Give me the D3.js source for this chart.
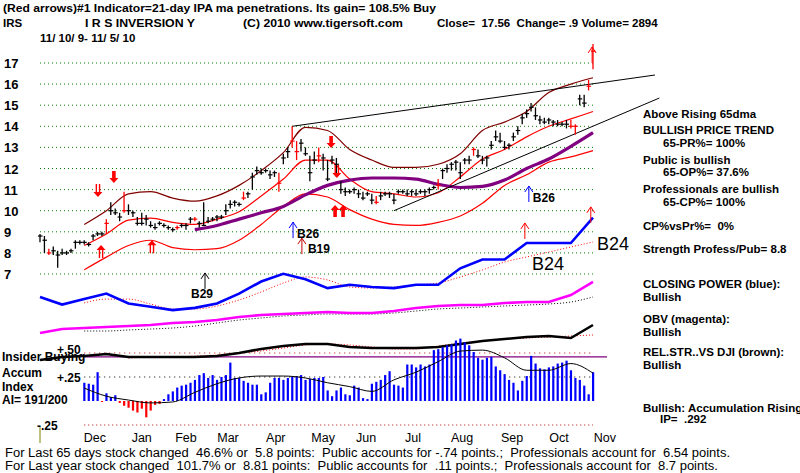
<!DOCTYPE html>
<html>
<head>
<meta charset="utf-8">
<script src="https://cdn.jsdelivr.net/npm/d3@7"></script>
<style>
  body { margin: 0; background: #fff; }
  svg text { font-family: "Liberation Sans", Arial, sans-serif; fill: #000; }
</style>
</head>
<body>
<div id="chart"></div>
<script>
// ---- data (day index 0 = 11/10/09, step = 2 trading days) ----
const priceHigh = [8.9,8.8,8.2,8.3,8.1,8.2,8.1,8.2,8.6,8.6,
  8.6,8.5,8.9,9.0,9.0,9.6,10.4,10.1,9.9,10.9,
  10.3,10.0,9.7,9.9,9.8,9.5,9.4,9.5,9.4,9.3,
  9.2,9.3,9.4,9.4,9.7,9.7,9.5,10.4,9.7,9.7,
  9.8,9.8,10.3,10.5,10.5,10.4,10.9,10.9,11.8,12.1,
  12.0,12.0,11.9,11.9,11.8,12.7,13.0,14.0,13.3,13.4,
  13.0,12.6,12.8,13.0,12.7,12.4,12.6,12.5,11.4,11.1,
  11.0,11.1,11.0,10.9,10.9,10.8,10.7,10.9,10.9,10.9,
  10.8,11.0,11.0,11.0,11.0,11.0,11.0,11.0,11.1,11.2,
  11.5,12.0,12.2,12.3,12.4,12.3,12.5,12.6,13.0,12.9,
  12.6,12.6,13.3,13.8,13.7,13.3,13.2,13.7,14.0,14.6,
  14.8,15.1,14.9,14.5,14.4,14.4,14.3,14.3,14.2,14.3,
  14.3,14.1,15.5,15.5,16.2,17.9];
const priceLow = [8.5,8.0,7.9,7.9,7.3,7.9,7.9,8.0,8.2,8.4,
  8.4,8.3,8.6,8.8,8.8,8.9,9.8,9.8,9.5,9.9,
  9.8,9.7,9.3,9.3,9.3,9.2,9.1,9.3,9.2,9.1,
  9.0,9.1,9.2,9.1,9.4,9.5,9.2,9.3,9.4,9.5,
  9.5,9.6,9.8,10.1,10.2,10.2,10.5,10.6,11.0,11.7,
  11.7,11.8,11.5,11.6,10.9,12.2,12.5,13.0,12.4,12.8,
  12.6,11.4,12.2,12.3,11.9,11.4,12.2,11.6,10.8,10.7,
  10.8,10.8,10.6,10.5,10.7,10.3,10.3,10.5,10.7,10.6,
  10.3,10.8,10.8,10.7,10.7,10.7,10.8,10.7,10.8,11.0,
  11.0,11.5,11.8,11.9,11.9,11.5,12.2,12.2,12.6,12.5,
  12.2,12.1,12.9,13.3,13.2,12.9,12.9,13.3,13.6,14.1,
  14.4,14.7,14.3,14.1,14.1,14.1,14.0,14.0,14.0,13.9,
  13.9,13.6,15.0,14.9,15.7,16.7];
const priceClose = [8.8,8.6,8.0,8.1,7.9,8.0,8.0,8.1,8.5,8.5,
  8.5,8.4,8.8,8.9,8.9,9.4,10.0,9.9,9.7,10.0,
  10.0,9.9,9.4,9.4,9.6,9.3,9.2,9.4,9.3,9.2,
  9.1,9.2,9.3,9.3,9.6,9.6,9.4,9.3,9.5,9.6,
  9.7,9.7,10.0,10.3,10.4,10.3,10.6,10.8,11.6,11.9,
  11.8,11.9,11.7,11.8,11.3,12.5,12.8,13.3,12.8,13.2,
  12.7,11.8,12.4,12.6,12.5,11.5,12.4,12.2,11.0,10.9,
  10.9,11.0,10.8,10.6,10.8,10.5,10.4,10.7,10.8,10.8,
  10.5,10.9,10.9,10.8,10.9,10.8,10.9,10.9,11.0,11.1,
  11.2,11.9,12.0,12.2,12.3,11.8,12.4,12.4,12.9,12.6,
  12.4,12.5,13.1,13.5,13.3,13.0,13.1,13.5,13.8,14.4,
  14.6,14.9,14.5,14.3,14.2,14.3,14.2,14.1,14.1,14.1,
  14.0,14.0,15.3,15.1,15.9,17.56];
const redBarDays = [2, 15, 19, 31, 35, 46, 54, 57, 58, 63, 76, 90, 98, 120, 121, 124, 125];

// smoothed series, one value every 5th day index (0,5,...,125)
const upperBand = [null,null,9.35,10.0,10.8,10.9,10.6,10.45,10.7,11.2,11.9,12.75,13.95,13.8,12.9,12.4,12.05,12.05,12.2,12.7,13.8,14.2,14.7,15.6,16.0,16.3];
const midLine   = [null,null,8.35,8.9,9.55,9.65,9.45,9.35,9.6,9.95,10.7,11.5,12.4,12.4,11.5,10.9,10.8,10.65,10.85,11.6,12.45,12.9,13.5,14.0,14.35,14.7];
const lowerBand = [null,null,7.2,7.8,8.35,8.6,8.25,8.15,8.2,8.6,9.35,10.2,10.8,10.65,10.05,9.6,9.35,9.3,9.45,9.75,10.35,11.2,11.7,12.3,12.55,12.85];
const ma65      = [null,null,null,null,null,null,null,9.1,9.3,9.6,9.9,10.2,10.75,11.2,11.45,11.55,11.55,11.5,11.25,11.1,11.15,11.45,12.0,12.45,13.05,13.7];

const closingPower = [21,14,19,24,15,12,9,11,15,24,35,42,37,29,32,30,29,32,32,47,55,55,70,70,70,93];
const closingPowerMa = [null,null,15.5,19,19,14.5,10,10,12.7,18.2,25.5,33.6,39.1,36.4,30,29.1,30,31.8,33.6,39.1,45.5,52.7,57.3,61.8,66.4,70.9];
const obv   = [11.7,18.3,20,21.7,23.3,25,28.3,30,33.3,38.3,41.7,43.3,45,46.7,45,45,48.3,53.3,56.7,58.3,58.3,61.7,63.3,63.3,75,96.7];
const obvMa = [null,null,15,15,16.7,18.3,20,23.3,28.3,33.3,36.7,40,41.7,43.3,43.3,43.3,45,48.3,51.7,53.3,55,56.7,58.3,60,63.3,71.7];
const relStr   = [10,16,18,22,16,16,16,16,18,24,32,38,42,42,36,34,34,34,36,42,48,52,56,58,54,80];
const relStrMa = [null,null,null,null,14,16,16,18,20,24,28,34,40,42,40,36,32,32,38,44,48,52,54,56,58,60];

const accumIndex = [null,null,null,null,null,null,null,null,null,null,
  0.19,0.18,0.17,0.30,-0.01,0.08,0.04,0.06,-0.02,-0.05,
  -0.07,-0.10,-0.12,-0.08,-0.17,-0.10,-0.04,-0.03,0.02,0.07,
  0.10,0.14,0.16,0.17,0.19,0.22,0.27,0.29,0.24,0.27,
  0.22,0.25,0.27,0.40,0.24,0.24,0.21,0.19,0.17,0.17,
  0.07,0.09,0.19,0.24,0.24,0.22,0.24,0.25,0.26,0.27,
  0.22,0.23,0.24,0.24,0.25,0.11,0.05,0.11,0.14,0.07,
  0.06,0.16,0.14,0.03,0.02,0.18,0.20,0.22,0.27,0.31,
  0.17,0.16,0.14,0.38,0.38,0.35,0.38,0.36,0.38,0.53,
  0.54,0.56,0.58,0.59,0.63,0.65,0.61,0.58,0.51,0.45,
  0.43,0.45,0.46,0.36,0.32,0.28,0.22,0.19,0.11,0.21,
  0.26,0.47,0.39,0.34,0.33,0.35,0.36,0.39,0.40,0.42,
  0.32,0.24,0.22,0.16,0.07,0.30];
const accumMa = [null,null,0.135,0.05,0.01,-0.02,-0.01,0.09,0.18,0.24,0.26,0.26,0.24,0.19,0.15,0.10,0.22,0.30,0.41,0.52,0.53,0.45,0.32,0.32,0.39,0.29];

const priceTicks = [7,8,9,10,11,12,13,14,15,16,17];
const months = ["Dec","Jan","Feb","Mar","Apr","May","Jun","Jul","Aug","Sep","Oct","Nov"];
const monthDays = [12.4,23,33,42.5,53.3,64,73.7,84.3,95.4,106.7,117.3,127.7];

const trendLines = [
  [{ day: 57, price: 14.0 }, { day: 139, price: 16.43 }],
  [{ day: 80, price: 10.0 }, { day: 140, price: 15.34 }]
];

// signal arrows: kind = solid / double / thin
const signals = [
  { day: 13.1, price: 10.65, dir: "down", kind: "double", color: "#ff0000" },
  { day: 16.7, price: 11.31, dir: "down", kind: "solid", color: "#ff0000" },
  { day: 65.8, price: 12.97, dir: "down", kind: "solid", color: "#ff0000" },
  { day: 67.1, price: 11.55, dir: "down", kind: "double", color: "#ff0000" },
  { day: 13.8, price: 8.37, dir: "up", kind: "double", color: "#ff0000" },
  { day: 25.3, price: 8.6, dir: "up", kind: "double", color: "#ff0000" },
  { day: 66.7, price: 10.27, dir: "up", kind: "solid", color: "#ff0000" },
  { day: 68.5, price: 10.27, dir: "up", kind: "solid", color: "#ff0000" },
  { day: 37.3, price: 7.05, dir: "up", kind: "thin", color: "#000000", label: "B29" },
  { day: 57.2, price: 9.46, dir: "up", kind: "thin", color: "#0000ff", label: "B26" },
  { day: 59.2, price: 8.7, dir: "up", kind: "thin", color: "#c00000", label: "B19" },
  { day: 110.5, price: 11.17, dir: "up", kind: "thin", color: "#0000ff", label: "B26" },
  { day: 109.6, price: 9.42, dir: "up", kind: "thin", color: "#ff0000" },
  { day: 124.5, price: 10.18, dir: "up", kind: "thin", color: "#ff0000" },
  { day: 124.8, price: 17.76, dir: "up", kind: "thin", color: "#ff0000" }
];
const labelOffsets = { B29: [-14, 25], B26: [4, 16], B19: [6, 15] };

// ---- chart ----
const width = 800, height = 473;
const svg = d3.select("#chart").append("svg")
  .attr("width", width).attr("height", height)
  .attr("viewBox", `0 0 ${width} ${height}`);
svg.append("rect").attr("width", width).attr("height", height).attr("fill", "#fff");

const x = d3.scaleLinear().domain([0, 125]).range([40, 593]);
const yP = d3.scaleLinear().domain([7, 17]).range([274, 63]);
const yCP = d3.scaleLinear().domain([0, 100]).range([320, 210]);
const yOBV = d3.scaleLinear().domain([0, 100]).range([340, 280]);
const yRS = d3.scaleLinear().domain([0, 100]).range([365, 315]);
const yAI = d3.scaleLinear().domain([-0.25, 0.25]).range([425, 377]);

const gridDays = d3.range(0, 126, 5);
const asSeries = arr => gridDays.map((d, i) => ({ d, v: arr[i] }));

function drawLine(values, yScale, color, w, dash, curve) {
  const line = d3.line()
    .defined(p => p.v != null)
    .x(p => x(p.d))
    .y(p => yScale(p.v))
    .curve(curve || d3.curveMonotoneX);
  svg.append("path")
    .datum(asSeries(values))
    .attr("d", line)
    .attr("fill", "none")
    .attr("stroke", color)
    .attr("stroke-width", w)
    .attr("stroke-dasharray", dash || null);
}

// price gridlines + labels
svg.append("g").selectAll("line").data(priceTicks).join("line")
  .attr("x1", x(0)).attr("x2", x(125))
  .attr("y1", d => yP(d)).attr("y2", d => yP(d))
  .attr("stroke", "#008000").attr("stroke-width", 1).attr("stroke-dasharray", "1,3");
svg.append("g").selectAll("text").data(priceTicks).join("text")
  .attr("x", 4).attr("y", d => yP(d) + 5)
  .attr("font-size", 13).attr("font-weight", "bold")
  .text(d => d);

// bands and moving averages
drawLine(upperBand, yP, "#800000", 1.2);
drawLine(lowerBand, yP, "#ff0000", 1.2);
drawLine(midLine, yP, "#ff0000", 1.2);
drawLine(ma65, yP, "#800080", 3.2);

// trend lines
trendLines.forEach(t => {
  svg.append("line")
    .attr("x1", x(t[0].day)).attr("y1", yP(t[0].price))
    .attr("x2", x(t[1].day)).attr("y2", yP(t[1].price))
    .attr("stroke", "#000").attr("stroke-width", 1);
});

// price bars
const bars = priceClose.map((c, i) => ({ i, h: priceHigh[i], l: priceLow[i], c, red: redBarDays.includes(i) }));
const barG = svg.append("g");
barG.selectAll("line.hl").data(bars).join("line")
  .attr("class", "hl")
  .attr("x1", d => x(d.i)).attr("x2", d => x(d.i))
  .attr("y1", d => yP(d.h)).attr("y2", d => yP(d.l))
  .attr("stroke", d => d.red ? "#ff0000" : "#000").attr("stroke-width", 1.3);
barG.selectAll("line.cl").data(bars).join("line")
  .attr("class", "cl")
  .attr("x1", d => x(d.i) - 2).attr("x2", d => x(d.i) + 2.5)
  .attr("y1", d => yP(d.c)).attr("y2", d => yP(d.c))
  .attr("stroke", d => d.red ? "#ff0000" : "#000").attr("stroke-width", 1.2);

// closing power, OBV, relative strength
drawLine(closingPowerMa, yCP, "#ff0000", 1, "1,2");
drawLine(closingPower, yCP, "#0000ff", 2.6, null, d3.curveLinear);
drawLine(obvMa, yOBV, "#000", 1, "1,2");
drawLine(obv, yOBV, "#ff00ff", 2.6, null, d3.curveLinear);

// AI panel reference lines
const aiLeft = x(10), aiRight = x(125);
svg.append("line").attr("x1", aiLeft).attr("x2", aiRight).attr("y1", yAI(0.5)).attr("y2", yAI(0.5))
  .attr("stroke", "#c00000").attr("stroke-dasharray", "1,4");
svg.append("line").attr("x1", aiLeft).attr("x2", aiRight).attr("y1", yAI(0.25)).attr("y2", yAI(0.25))
  .attr("stroke", "#000").attr("stroke-dasharray", "1,4");
svg.append("line").attr("x1", aiLeft).attr("x2", aiRight).attr("y1", yAI(-0.25)).attr("y2", yAI(-0.25))
  .attr("stroke", "#c00000").attr("stroke-dasharray", "1,3");
svg.append("line").attr("x1", aiLeft).attr("x2", 607).attr("y1", yAI(0.46)).attr("y2", yAI(0.46))
  .attr("stroke", "#800080").attr("stroke-width", 1.2);

drawLine(relStrMa, yRS, "#ff0000", 1, "1,2");
drawLine(relStr, yRS, "#000", 2.6, null, d3.curveLinear);

// accumulation index bars
const aiData = accumIndex.map((v, i) => ({ i, v })).filter(d => d.v != null);
svg.append("g").selectAll("rect").data(aiData).join("rect")
  .attr("x", d => x(d.i) - 1)
  .attr("width", 2.2)
  .attr("y", d => Math.min(yAI(0), yAI(d.v)))
  .attr("height", d => Math.abs(yAI(d.v) - yAI(0)))
  .attr("fill", d => d.v < 0 ? "#ff0000" : "#0000ff");
drawLine(accumMa, yAI, "#000", 1);

// signal arrows
const sigG = svg.append("g");
signals.forEach(s => {
  const cx = x(s.day), tip = yP(s.price), k = s.dir === "down" ? 1 : -1;
  if (s.kind === "solid") {
    sigG.append("path")
      .attr("d", `M${cx - 1.8},${tip - k * 12} L${cx + 1.8},${tip - k * 12} L${cx + 1.8},${tip - k * 5} L${cx + 4.5},${tip - k * 5} L${cx},${tip} L${cx - 4.5},${tip - k * 5} L${cx - 1.8},${tip - k * 5} Z`)
      .attr("fill", s.color);
  } else if (s.kind === "double") {
    [-1.6, 1.6].forEach(o => sigG.append("line")
      .attr("x1", cx + o).attr("x2", cx + o)
      .attr("y1", tip - k * 13).attr("y2", tip - k * 4)
      .attr("stroke", s.color).attr("stroke-width", 1.4));
    sigG.append("path")
      .attr("d", `M${cx - 4.5},${tip - k * 5} L${cx},${tip} L${cx + 4.5},${tip - k * 5} Z`)
      .attr("fill", s.color);
  } else {
    sigG.append("line")
      .attr("x1", cx).attr("x2", cx).attr("y1", tip).attr("y2", tip + 16)
      .attr("stroke", s.color).attr("stroke-width", 1);
    sigG.append("path")
      .attr("d", `M${cx - 4},${tip + 6} L${cx},${tip} L${cx + 4},${tip + 6}`)
      .attr("fill", "none").attr("stroke", s.color).attr("stroke-width", 1);
    if (s.label) {
      const off = labelOffsets[s.label];
      sigG.append("text")
        .attr("x", cx + off[0]).attr("y", tip + off[1])
        .attr("font-size", 12).attr("font-weight", "bold")
        .text(s.label);
    }
  }
});

// big B24 labels
svg.append("text").attr("x", 597).attr("y", 250).attr("font-size", 18).text("B24");
svg.append("text").attr("x", 532).attr("y", 270).attr("font-size", 18).text("B24");

// month labels
svg.append("g").selectAll("text").data(months).join("text")
  .attr("x", (d, i) => x(monthDays[i])).attr("y", 442)
  .attr("text-anchor", "middle").attr("font-size", 12.5)
  .text(d => d);
svg.append("line").attr("x1", 40).attr("x2", 40).attr("y1", 427).attr("y2", 443)
  .attr("stroke", "#808000").attr("stroke-width", 1);

// header
const hdr = svg.append("g").attr("font-size", 11.5).attr("font-weight", "bold");
hdr.append("text").attr("x", 3).attr("y", 12)
  .attr("textLength", 433).attr("lengthAdjust", "spacingAndGlyphs")
  .text("(Red arrows)#1 Indicator=21-day IPA ma penetrations. Its gain= 108.5% Buy");
hdr.append("text").attr("x", 3).attr("y", 27).text("IRS");
hdr.append("text").attr("x", 85).attr("y", 27)
  .attr("textLength", 110).attr("lengthAdjust", "spacingAndGlyphs").text("I R S INVERSION Y");
hdr.append("text").attr("x", 243).attr("y", 27)
  .attr("textLength", 160).attr("lengthAdjust", "spacingAndGlyphs").text("(C) 2010 www.tigersoft.com");
hdr.append("text").attr("x", 437).attr("y", 27).attr("xml:space", "preserve").text("Close=  17.56  Change= .9 Volume= 2894");
hdr.append("text").attr("x", 40).attr("y", 42).text("11/ 10/ 9- 11/ 5/ 10");

// left AI labels
const left = svg.append("g").attr("font-size", 12).attr("font-weight", "bold");
left.append("text").attr("x", 57).attr("y", 354).text("+.50");
left.append("text").attr("x", 57).attr("y", 382).text("+.25");
left.append("text").attr("x", 37).attr("y", 430).text("-.25");
left.append("text").attr("x", 2).attr("y", 361).text("Insider Buying");
left.append("text").attr("x", 2).attr("y", 377).text("Accum");
left.append("text").attr("x", 2).attr("y", 391).text("Index");
left.append("text").attr("x", 2).attr("y", 404).text("AI= 191/200");

// right panel
const panel = [
  ["Above Rising 65dma", 643, 118], ["BULLISH PRICE TREND", 643, 134], ["65-PR%= 100%", 663, 147],
  ["Public is bullish", 643, 164], ["65-OP%= 37.6%", 663, 176], ["Professionals are bullish", 643, 193],
  ["65-CP%= 100%", 663, 206], ["CP%vsPr%=  0%", 643, 230], ["Strength Profess/Pub= 8.8", 643, 253],
  ["CLOSING POWER (blue):", 643, 288], ["Bullish", 643, 301], ["OBV (magenta):", 643, 323],
  ["Bullish", 643, 336], ["REL.STR..VS DJI (brown):", 643, 356], ["Bullish", 643, 369],
  ["Bullish: Accumulation Rising", 643, 412], ["IP=  .292", 660, 423]
];
svg.append("g").attr("font-size", 11.5).attr("font-weight", "bold")
  .selectAll("text").data(panel).join("text")
  .attr("x", d => d[1]).attr("y", d => d[2]).attr("xml:space", "preserve")
  .text(d => d[0]);

// footer
const foot = svg.append("g").attr("font-size", 12);
foot.append("text").attr("x", 5).attr("y", 457).attr("xml:space", "preserve")
  .attr("textLength", 725).attr("lengthAdjust", "spacingAndGlyphs")
  .text("For Last 65 days stock changed  46.6% or  5.8 points:  Public accounts for -.74 points.;  Professionals account for  6.54 points.");
foot.append("text").attr("x", 5).attr("y", 470).attr("xml:space", "preserve")
  .attr("textLength", 713).attr("lengthAdjust", "spacingAndGlyphs")
  .text("For Last year stock changed  101.7% or  8.81 points:  Public accounts for  .11 points.;  Professionals account for  8.7 points.");
</script>
</body>
</html>
